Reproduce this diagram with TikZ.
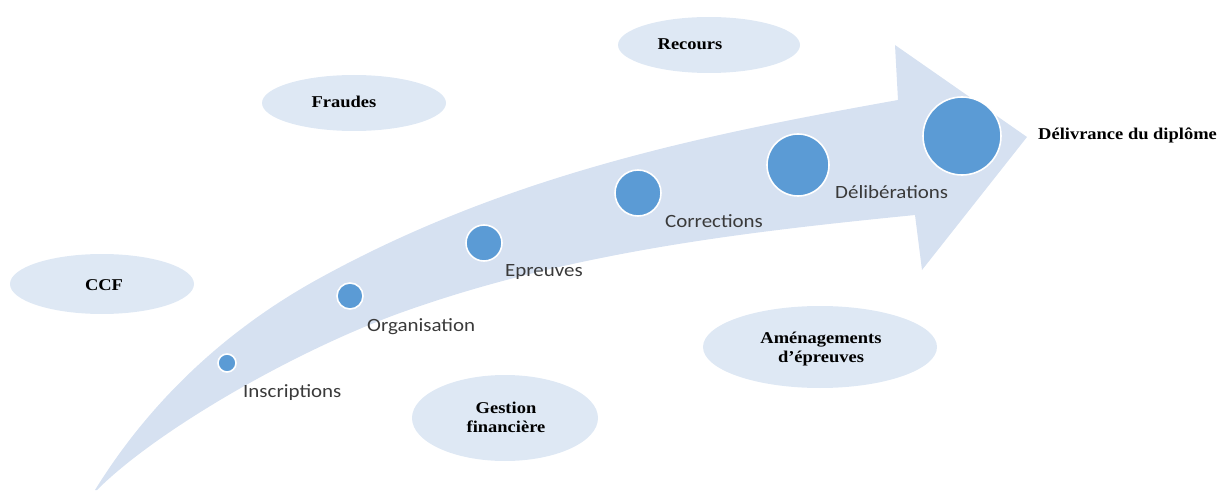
\documentclass[tikz,border=0pt]{standalone}
\usepackage{fontspec}
\usetikzlibrary{shapes.geometric}
\newfontfamily\lblfont[FakeStretch=1.12]{Carlito}
\newfontfamily\boxfont[FakeStretch=1.12]{Liberation Serif}
\definecolor{arrowfill}{HTML}{D6E1F1}
\definecolor{ellfill}{HTML}{DEE8F4}
\definecolor{dotfill}{HTML}{5B9BD5}
\definecolor{lbltext}{HTML}{3A3A3A}
\begin{document}
\begin{tikzpicture}[x=1pt,y=-1pt,
  bubble/.style={fill=ellfill},
  bubbletext/.style={font=\boxfont\bfseries\fontsize{16.5}{19}\selectfont, inner sep=0pt, align=center, text=black},
  dot/.style={circle, fill=dotfill, draw=white, line width=1.6pt, inner sep=0pt},
  steplabel/.style={font=\lblfont\fontsize{18.7}{22}\selectfont, text=lbltext, inner sep=0pt, anchor=base west}]
\path[use as bounding box] (0,0) rectangle (1219,492);

% big curved arrow
\fill[arrowfill]
  (95,490) .. controls (160,385) and (245,319) .. (320,278)
  .. controls (510,173.5) and (708,134) .. (898,100)
  -- (895,45) -- (1027,137) -- (922,270) -- (915,215)
  .. controls (745,232) and (570,252) .. (400,313)
  .. controls (295,351) and (157,430) .. (97,490)
  -- cycle;

% ellipses
\fill[bubble] (709,45) ellipse [x radius=91, y radius=28];
\fill[bubble] (354,103) ellipse [x radius=92, y radius=28];
\fill[bubble] (102,284) ellipse [x radius=92, y radius=30];
\fill[bubble] (820,347) ellipse [x radius=117, y radius=41];
\fill[bubble] (505,418) ellipse [x radius=93, y radius=43];

\node[bubbletext, anchor=base] (recours) at (690,50) {Recours};
\node[bubbletext, anchor=base] (fraudes) at (344,108) {Fraudes};
\node[bubbletext, anchor=base] (ccf) at (104,290) {CCF};
\node[bubbletext] (amen) at (821,349) {Aménagements\\d’épreuves};
\node[bubbletext] (gestion) at (506,417) {Gestion\\financière};
\node[bubbletext, anchor=base west] (diplome) at (1038,140) {Délivrance du diplôme};

% dots
\node[dot, minimum size=18pt] (d1) at (227,363) {};
\node[dot, minimum size=26pt] (d2) at (350,296) {};
\node[dot, minimum size=36pt] (d3) at (484,243) {};
\node[dot, minimum size=46pt] (d4) at (638,193) {};
\node[dot, minimum size=62pt] (d5) at (798,165) {};
\node[dot, minimum size=78pt] (d6) at (962,136) {};

% step labels
\node[steplabel] (l1) at (243,397) {Inscriptions};
\node[steplabel] (l2) at (367,331) {Organisation};
\node[steplabel] (l3) at (505,276) {Epreuves};
\node[steplabel] (l4) at (665,227) {Corrections};
\node[steplabel] (l5) at (835,198) {Délibérations};
\end{tikzpicture}
\end{document}
